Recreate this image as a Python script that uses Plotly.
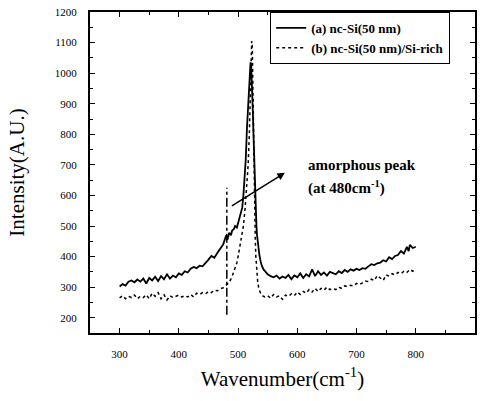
import plotly.graph_objects as go

# ---- data ----
x_a = [300,305,310,315,320,325,330,335,340,345,350,355,360,365,370,375,380,385,390,395,
       400,405,410,415,420,425,430,435,440,445,450,455,460,465,470,475,478,480,482,485,
       488,490,493,495,498,500,503,505,507,509,511,513,515,517,519,521,522,523,524,525,
       526,527,528,529,530,531,532,534,536,538,540,543,546,550,555,560,565,570,575,580,
       585,590,595,600,605,610,615,620,625,630,635,640,645,650,655,660,665,670,675,680,
       685,690,695,700,705,710,715,720,725,730,735,740,745,750,755,760,765,770,775,780,
       785,788,790,795,800]
y_a = [302,310,305,318,322,316,325,318,328,312,330,322,334,320,336,326,342,328,338,332,
       345,340,352,348,360,366,362,370,368,378,390,402,396,412,428,440,458,470,455,478,
       470,485,490,500,495,510,530,545,560,600,650,720,820,900,970,1035,1030,990,930,870,
       800,730,660,590,540,500,470,430,405,385,370,358,350,342,336,332,338,328,335,330,
       340,326,338,332,345,330,342,335,358,336,352,340,348,338,350,345,342,352,346,356,
       350,358,354,360,356,362,360,368,375,372,378,380,388,384,398,392,402,405,418,410,
       432,418,438,428,432]

x_b = [300,305,310,315,320,325,330,335,340,345,350,355,360,365,370,375,380,385,390,395,
       400,405,410,415,420,425,430,435,440,445,450,455,460,465,470,475,480,485,490,495,
       498,500,503,506,509,512,515,517,519,521,523,524,525,526,527,528,529,530,531,533,
       535,538,541,545,550,555,560,565,570,575,580,585,590,595,600,605,610,615,620,625,
       630,635,640,645,650,655,660,665,670,675,680,685,690,695,700,705,710,715,720,725,
       730,735,740,745,750,755,760,765,770,775,780,785,790,795,800]
y_b = [265,272,262,270,266,274,262,270,266,275,262,280,270,282,262,275,258,272,266,270,
       274,268,272,268,276,268,280,276,282,278,286,282,290,288,295,298,306,315,335,360,
       380,400,430,465,500,560,630,700,800,950,1105,1090,960,780,640,540,460,400,360,320,
       295,280,272,268,272,264,276,268,272,260,274,270,278,272,284,276,286,280,292,284,
       296,286,296,290,300,292,296,292,300,296,304,302,306,304,312,308,314,320,318,326,
       322,338,330,322,340,336,344,340,348,344,352,348,358,352,362]

vline_x = [481, 481]
vline_y = [210, 625]

arrow_start = (487, 563)
arrow_end = (579, 674)

x_range = [250, 900]
y_range = [150, 1200]
x_ticks = [300, 400, 500, 600, 700, 800, 900]
y_ticks = [200, 300, 400, 500, 600, 700, 800, 900, 1000, 1100, 1200]

serif = "Liberation Serif"
W, H = 483, 401

fig = go.Figure()
fig.add_trace(go.Scatter(x=x_a, y=y_a, mode="lines", name="(a) nc-Si(50 nm)",
                         line=dict(color="black", width=1.8)))
fig.add_trace(go.Scatter(x=x_b, y=y_b, mode="lines", name="(b) nc-Si(50 nm)/Si-rich",
                         line=dict(color="black", width=1.5, dash="dot")))
fig.add_trace(go.Scatter(x=vline_x, y=vline_y, mode="lines", showlegend=False,
                         line=dict(color="black", width=1.5, dash="dashdot")))

fig.add_annotation(x=arrow_end[0], y=arrow_end[1], ax=arrow_start[0], ay=arrow_start[1],
                   xref="x", yref="y", axref="x", ayref="y", showarrow=True,
                   arrowhead=2, arrowsize=1, arrowwidth=1.5, arrowcolor="black", text="")
fig.add_annotation(x=615, y=701, xref="x", yref="y", xanchor="left", yanchor="middle",
                   showarrow=False, text="<b>amorphous peak</b>",
                   font=dict(family=serif, size=15, color="black"))
fig.add_annotation(x=615, y=626, xref="x", yref="y", xanchor="left", yanchor="middle",
                   showarrow=False, text="<b>(at 480cm<sup>-1</sup>)</b>",
                   font=dict(family=serif, size=15, color="black"))

axis_common = dict(showline=True, linecolor="black", linewidth=2, mirror="ticks",
                   ticks="inside", ticklen=5, tickcolor="black", tickwidth=1.2,
                   showgrid=False, zeroline=False, automargin=False,
                   minor=dict(ticks="inside", ticklen=3, tickcolor="black", tickwidth=1),
                   tickfont=dict(family=serif, size=11, color="black"))

fig.update_xaxes(range=x_range, tickmode="array", tickvals=x_ticks, ticklabelstandoff=10,
                 title=dict(text="Wavenumber(cm<sup>-1</sup>)", standoff=12,
                            font=dict(family=serif, size=21, color="black")),
                 **axis_common)
fig.update_yaxes(range=y_range, tickmode="array", tickvals=y_ticks, ticklabelstandoff=9,
                 title=dict(text="Intensity(A.U.)", standoff=24,
                            font=dict(family=serif, size=21, color="black")),
                 **axis_common)
fig.update_xaxes(minor_tickmode="linear", minor_tick0=250, minor_dtick=50)
fig.update_yaxes(minor_tickmode="linear", minor_tick0=150, minor_dtick=50)

fig.update_layout(
    width=W, height=H,
    margin=dict(l=90, r=8, t=12, b=68, autoexpand=False),
    paper_bgcolor="white", plot_bgcolor="white",
    legend=dict(x=0.468, y=1.0, xanchor="left", yanchor="top",
                bgcolor="white", bordercolor="black", borderwidth=1,
                font=dict(family=serif, size=13, color="black", weight="bold"),
                tracegroupgap=0, itemwidth=30),
    font=dict(family=serif, color="black"),
)

fig.write_html("out.html", config={"displayModeBar": False},
               post_script="document.body.style.margin='0';document.body.style.overflow='hidden';")
